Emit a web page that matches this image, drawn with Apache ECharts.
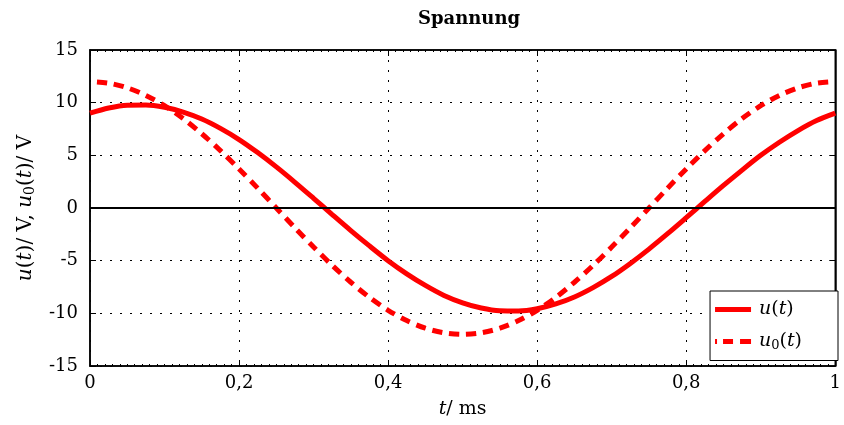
<!DOCTYPE html>
<html>
<head>
<meta charset="utf-8">
<script src="https://cdn.jsdelivr.net/npm/echarts@6/dist/echarts.min.js"></script>
<style>
  html, body { margin: 0; padding: 0; background: #fff; }
  #chart { width: 844px; height: 425px; }
</style>
</head>
<body>
<div id="chart"></div>
<script>
var fontName = 'DejaVu Serif';

// t in ms
var tValues = [0, 0.025, 0.05, 0.075, 0.1, 0.125, 0.15, 0.175, 0.2, 0.225,
               0.25, 0.275, 0.3, 0.325, 0.35, 0.375, 0.4, 0.425, 0.45, 0.475,
               0.5, 0.525, 0.55, 0.575, 0.6, 0.625, 0.65, 0.675, 0.7, 0.725,
               0.75, 0.775, 0.8, 0.825, 0.85, 0.875, 0.9, 0.925, 0.95, 0.975, 1];
// u(t) / V
var uValues = [9.0, 9.49, 9.76, 9.78, 9.56, 9.11, 8.45, 7.56, 6.5, 5.26,
               3.9, 2.44, 0.92, -0.62, -2.14, -3.6, -5.0, -6.25, -7.35, -8.3,
               -9.0, -9.5, -9.76, -9.78, -9.57, -9.11, -8.45, -7.56, -6.5, -5.26,
               -3.9, -2.44, -0.92, 0.62, 2.14, 3.6, 5.0, 6.24, 7.35, 8.3, 9.0];
// u0(t) / V
var u0Values = [12.0, 11.85, 11.41, 10.69, 9.71, 8.49, 7.05, 5.45, 3.71, 1.88,
                0.0, -1.88, -3.71, -5.45, -7.05, -8.49, -9.71, -10.69, -11.41, -11.85,
                -12.0, -11.85, -11.41, -10.69, -9.71, -8.49, -7.05, -5.45, -3.71, -1.88,
                0.0, 1.88, 3.71, 5.45, 7.05, 8.49, 9.71, 10.69, 11.41, 11.85, 12.0];

function pairs(xs, ys) {
    var out = [];
    for (var i = 0; i < xs.length; i++) out.push([xs[i], ys[i]]);
    return out;
}

var myChart = echarts.init(document.getElementById('chart'));

function makeRich(size) {
    return {
        it: { fontFamily: fontName, fontStyle: 'italic', fontSize: size, color: '#000' },
        rm: { fontFamily: fontName, fontSize: size, color: '#000' },
        sub: { fontFamily: fontName, fontSize: Math.round(size * 0.7), color: '#000', verticalAlign: 'bottom', padding: [Math.round(size * 0.45), 0, 0, 0] }
    };
}

var gridDots = { color: '#000', type: [2, 8], width: 1 };
var frameLine = { show: true, onZero: false, lineStyle: { color: '#000', width: 1.5 } };
var frameTick = { show: true, inside: true, length: 6, lineStyle: { color: '#000', width: 1 } };

var option = {
    animation: false,
    title: {
        text: 'Spannung',
        left: 464,
        top: 5,
        textAlign: 'center',
        textStyle: { fontFamily: fontName, fontWeight: 'bold', fontSize: 18, color: '#000' }
    },
    legend: {
        right: 6,
        top: 291,
        orient: 'vertical',
        itemWidth: 36,
        itemHeight: 5,
        itemGap: 13,
        padding: [9, 36, 8, 5],
        backgroundColor: '#fff',
        borderColor: '#000',
        borderWidth: 1,
        borderRadius: 0,
        data: [
            { name: 'u', icon: 'path://M0,0H36V5H0Z' },
            { name: 'u0', icon: 'path://M0,0H2V5H0Z M8,0H18V5H8Z M25,0H36V5H25Z' }
        ],
        formatter: function (name) {
            if (name == 'u') return '{it|u}{rm|(}{it|t}{rm|)}';
            return '{it|u}{sub|0}{rm|(}{it|t}{rm|)}';
        },
        textStyle: { padding: [0, 0, 0, 3], rich: makeRich(19) }
    },
    grid: {
        left: 90,
        right: 6,
        top: 50,
        bottom: 59,
        show: true,
        borderColor: '#000',
        borderWidth: 1.5,
        backgroundColor: '#fff'
    },
    xAxis: [{
        type: 'value',
        min: 0,
        max: 1,
        interval: 0.2,
        name: '{it|t}{rm|/ ms}',
        nameLocation: 'middle',
        nameGap: 34,
        nameTextStyle: { rich: makeRich(19) },
        axisLine: frameLine,
        axisTick: frameTick,
        minorTick: { show: true, splitNumber: 20, length: 2, lineStyle: { color: '#000' } },
        axisLabel: {
            margin: 8,
            fontFamily: fontName,
            fontSize: 18,
            color: '#000',
            formatter: function (v) {
                return String(Math.round(v * 10) / 10).replace('.', ',');
            }
        },
        splitLine: { show: true, lineStyle: gridDots }
    }, {
        type: 'value',
        position: 'top',
        min: 0,
        max: 1,
        interval: 0.2,
        axisLine: frameLine,
        axisTick: frameTick,
        minorTick: { show: true, splitNumber: 20, length: 2, lineStyle: { color: '#000' } },
        axisLabel: { show: false },
        splitLine: { show: false }
    }],
    yAxis: [{
        type: 'value',
        min: -15,
        max: 15,
        interval: 5,
        name: '{it|u}{rm|(}{it|t}{rm|)/ V, }{it|u}{sub|0}{rm|(}{it|t}{rm|)/ V}',
        nameLocation: 'middle',
        nameGap: 53,
        nameTextStyle: { rich: makeRich(20) },
        axisLine: frameLine,
        axisTick: frameTick,
        axisLabel: { margin: 12, fontFamily: fontName, fontSize: 18, color: '#000' },
        splitLine: { show: true, lineStyle: gridDots }
    }, {
        type: 'value',
        position: 'right',
        min: -15,
        max: 15,
        interval: 5,
        axisLine: frameLine,
        axisTick: frameTick,
        axisLabel: { show: false },
        splitLine: { show: false }
    }],
    series: [{
        name: 'u',
        type: 'line',
        smooth: 0.3,
        symbol: 'none',
        lineStyle: { width: 5, color: '#ff0000' },
        itemStyle: { color: '#ff0000' },
        data: pairs(tValues, uValues),
        z: 3,
        markLine: {
            silent: true,
            symbol: 'none',
            label: { show: false },
            lineStyle: { color: '#000', type: 'solid', width: 2 },
            data: [{ yAxis: 0 }]
        }
    }, {
        name: 'u0',
        type: 'line',
        smooth: 0.3,
        symbol: 'none',
        lineStyle: { width: 5, color: '#ff0000', type: [10, 7], dashOffset: 10 },
        itemStyle: { color: '#ff0000' },
        data: pairs(tValues, u0Values),
        z: 4
    }]
};

myChart.setOption(option);
</script>
</body>
</html>
